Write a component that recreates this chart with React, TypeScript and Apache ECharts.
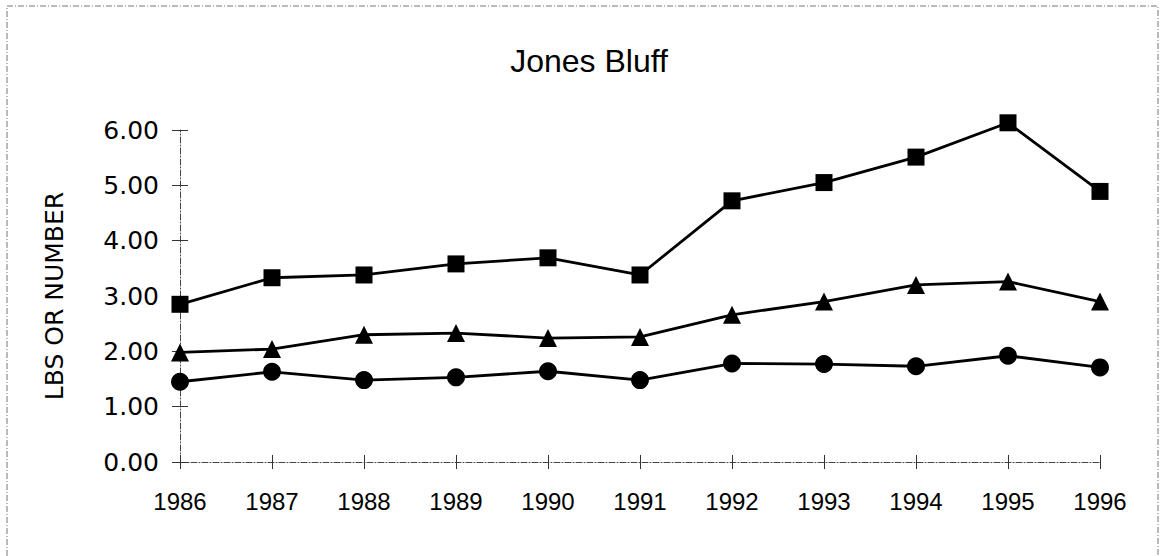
import React, { useEffect, useRef } from "react";
import * as echarts from "echarts";

const years = ["1986", "1987", "1988", "1989", "1990", "1991", "1992", "1993", "1994", "1995", "1996"];
const squareSeries = [2.85, 3.33, 3.38, 3.58, 3.69, 3.38, 4.72, 5.05, 5.51, 6.13, 4.89];
const triangleSeries = [1.98, 2.04, 2.30, 2.33, 2.24, 2.26, 2.66, 2.90, 3.20, 3.26, 2.90];
const circleSeries = [1.45, 1.63, 1.48, 1.53, 1.64, 1.48, 1.78, 1.77, 1.73, 1.92, 1.71];
const yTicks = { min: 0, max: 6, interval: 1 };

export default function App() {
  const ref = useRef<HTMLDivElement>(null);
  useEffect(() => {
    if (!ref.current) return;
    const chart = echarts.init(ref.current, null, { renderer: "svg" });
    const axisLine = { show: true, lineStyle: { color: "#444", width: 1, type: [6, 2, 1, 2] as any } };
    const mkSeries = (name: string, data: number[], symbol: string, size: number) => ({
      name,
      type: "line",
      data,
      symbol,
      symbolSize: size,
      clip: false,
      lineStyle: { color: "#000", width: 2.8 },
      itemStyle: { color: "#000" },
    });
    chart.setOption({
      animation: false,
      backgroundColor: "#fff",
      title: {
        text: "Jones Bluff",
        left: 584,
        top: 40,
        textAlign: "center",
        textStyle: { fontFamily: "Liberation Sans", fontSize: 32, fontWeight: "normal", color: "#000" },
      },
      grid: { left: 180, right: 62, top: 130, bottom: 94 },
      xAxis: [
        {
          type: "category",
          data: years,
          boundaryGap: false,
          axisLine,
          axisTick: { show: true, inside: false, length: 7, lineStyle: { color: "#333" } },
          axisLabel: { margin: 27, fontFamily: "Liberation Sans", fontSize: 24, color: "#000" },
          splitLine: { show: false },
        },
        {
          type: "category",
          data: years,
          boundaryGap: false,
          position: "bottom",
          axisLine: { show: false },
          axisTick: { show: true, inside: true, length: 7, lineStyle: { color: "#333" } },
          axisLabel: { show: false },
          splitLine: { show: false },
        },
      ],
      yAxis: [
        {
          type: "value",
          min: yTicks.min,
          max: yTicks.max,
          interval: yTicks.interval,
          axisLine,
          axisTick: { show: true, inside: false, length: 8, lineStyle: { color: "#333" } },
          axisLabel: {
            margin: 21,
            fontFamily: "DejaVu Sans",
            fontSize: 25,
            color: "#000",
            formatter: (v: number) => v.toFixed(2),
          },
          splitLine: { show: false },
          name: "LBS OR NUMBER",
          nameLocation: "middle",
          nameGap: 113,
          nameTextStyle: { fontFamily: "DejaVu Sans", fontSize: 25, color: "#000" },
        },
        {
          type: "value",
          min: yTicks.min,
          max: yTicks.max,
          interval: yTicks.interval,
          position: "left",
          axisLine: { show: false },
          axisTick: { show: true, inside: true, length: 8, lineStyle: { color: "#333" } },
          axisLabel: { show: false },
          splitLine: { show: false },
        },
      ],
      series: [
        mkSeries("Square", squareSeries, "rect", 17),
        mkSeries("Triangle", triangleSeries, "triangle", 18),
        mkSeries("Circle", circleSeries, "circle", 18),
      ],
      graphic: [
        {
          type: "polyline",
          shape: { points: [[7, 556], [7, 6], [1158, 6], [1158, 556]] },
          style: { stroke: "#777", lineWidth: 1, fill: "none", lineDash: [6, 2, 1, 2] },
          silent: true,
        },
      ],
    });
    return () => chart.dispose();
  }, []);
  return <div ref={ref} style={{ position: "fixed", left: 0, top: 0, width: 1162, height: 556 }} />;
}
